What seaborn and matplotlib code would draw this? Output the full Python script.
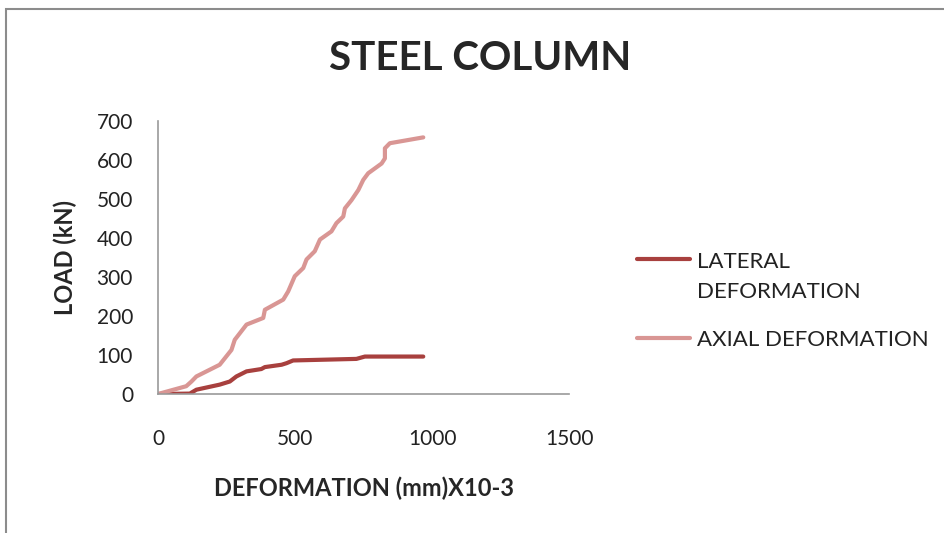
import numpy as np
import pandas as pd
import seaborn as sns
import matplotlib
matplotlib.use("Agg")
import matplotlib.pyplot as plt
from matplotlib.patches import Rectangle
from matplotlib.lines import Line2D

# Data
lateral_x = [0, 116, 140, 225, 262, 286, 323, 377, 390, 451, 469, 493, 724, 755, 968]
lateral_y = [0, 1, 11, 24, 32, 45, 58, 64, 69, 75, 79, 86, 90, 96, 96]
axial_x = [0, 103, 122, 140, 225, 268, 280, 323, 384, 390, 457, 475, 499, 530, 542,
           572, 591, 633, 651, 676, 682, 706, 731, 749, 767, 816, 828, 828, 846, 968]
axial_y = [0, 20, 32, 45, 75, 113, 139, 178, 195, 216, 242, 263, 302, 323, 345,
           366, 396, 417, 438, 455, 476, 497, 523, 549, 566, 591, 604, 630, 643, 658]
series_names = ["LATERAL\nDEFORMATION", "AXIAL DEFORMATION"]
series_colors = ["#A8403E", "#D99694"]
x_ticks = [0, 500, 1000, 1500]
y_ticks = [0, 100, 200, 300, 400, 500, 600, 700]

df = pd.concat([
    pd.DataFrame({"x": lateral_x, "y": lateral_y, "s": series_names[0]}),
    pd.DataFrame({"x": axial_x, "y": axial_y, "s": series_names[1]}),
], ignore_index=True)

sns.set_style("white")
plt.rcParams['font.family'] = ['Lato', 'DejaVu Sans']

fig = plt.figure(figsize=(9.44, 5.33), dpi=100)
ax = fig.add_axes([0.1674, 0.2608, 0.4354, 0.5122])

sns.lineplot(data=df, x="x", y="y", hue="s", estimator=None, sort=False,
             palette=dict(zip(series_names, series_colors)), linewidth=3.0,
             ax=ax, legend=False)
for ln in ax.lines:
    ln.set_solid_capstyle("round")
    ln.set_solid_joinstyle("round")

ax.set_xlim(0, 1500)
ax.set_ylim(0, 700)
ax.set_xticks(x_ticks)
ax.set_yticks(y_ticks)
ax.tick_params(axis="both", length=0, labelsize=15, colors="#222222")
ax.tick_params(axis="y", pad=18)
ax.tick_params(axis="x", pad=25)
for side in ["top", "right"]:
    ax.spines[side].set_visible(False)
for side in ["left", "bottom"]:
    ax.spines[side].set_color("#9a9a9a")
    ax.spines[side].set_linewidth(1.2)

ax.set_xlabel("DEFORMATION (mm)X10-3", fontsize=17, fontweight="bold", labelpad=20)
ax.set_ylabel("LOAD (kN)", fontsize=17, fontweight="bold", labelpad=14)

fig.text(0.5085, 0.890, "STEEL COLUMN", ha="center", va="center",
         fontsize=29, fontweight="bold")

handles = [Line2D([0], [0], color=c, lw=3.0, solid_capstyle="round") for c in series_colors]
leg = fig.legend(handles, series_names, loc="upper left",
                 bbox_to_anchor=(637 / 944, 1 - 252 / 533),
                 frameon=False, fontsize=16, handlelength=2.4, handletextpad=0.3,
                 labelspacing=1.25, borderpad=0, borderaxespad=0)
for t in leg.get_texts():
    t.set_linespacing(1.65)
    t.set_color("#222222")
h0 = leg.legend_handles[0]
h0.set_ydata(np.asarray(h0.get_ydata()) + 13.3)

fig.patches.append(Rectangle((0.006, -0.1), 1.1, 1.083, transform=fig.transFigure,
                             fill=False, edgecolor="#8c8c8c", linewidth=1.5))

fig.savefig("out.png", dpi=100)
